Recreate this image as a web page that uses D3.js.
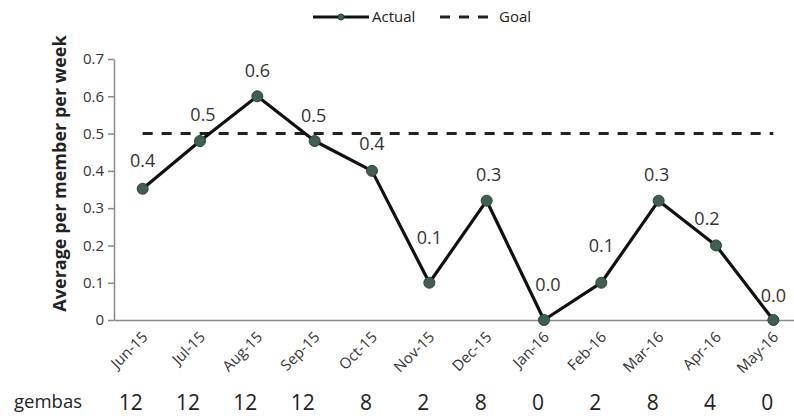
<!DOCTYPE html>
<html>
<head>
<meta charset="utf-8">
<script src="https://cdn.jsdelivr.net/npm/d3@7"></script>
<style>
  html, body { margin: 0; padding: 0; background: #fff; }
  svg { display: block; font-family: "Open Sans", "Noto Sans", sans-serif; }
</style>
</head>
<body>
<svg id="chart" width="794" height="416"></svg>
<script>
// Monthly gemba walks: average per member per week vs. goal
const months = ["Jun-15","Jul-15","Aug-15","Sep-15","Oct-15","Nov-15","Dec-15","Jan-16","Feb-16","Mar-16","Apr-16","May-16"];
const actual = [0.352, 0.48, 0.6, 0.48, 0.4, 0.1, 0.32, 0, 0.1, 0.32, 0.2, 0];
const goal = 0.5;
const gembas = [12, 12, 12, 12, 8, 2, 8, 0, 2, 8, 4, 0];
const yTicks = [0, 0.1, 0.2, 0.3, 0.4, 0.5, 0.6, 0.7];

const svg = d3.select("#chart");
const ink = "#222";
const axisGrey = "#8a8a8a";
const markerFill = "#3f5f50";

const x = d3.scalePoint().domain(months).range([114, 802]).padding(0.5);
const y = d3.scaleLinear().domain([0, 0.7]).range([320, 59]);

// y axis
const yAxis = svg.append("g")
  .attr("transform", "translate(114,0)")
  .call(d3.axisLeft(y).tickValues(yTicks).tickSize(6).tickSizeOuter(0)
    .tickFormat(d => d === 0 ? "0" : d3.format(".1f")(d)));
yAxis.select(".domain").attr("stroke", axisGrey).attr("stroke-width", 1.5);
yAxis.selectAll(".tick line").attr("stroke", axisGrey).attr("stroke-width", 1.5);
yAxis.selectAll(".tick text").attr("font-size", 15).attr("fill", "#333").attr("x", -10)
  .attr("font-family", "'Open Sans', sans-serif");

// x axis (baseline only; labels drawn rotated)
const xAxis = svg.append("g")
  .attr("transform", `translate(0,${y(0)})`)
  .call(d3.axisBottom(x).tickSize(0).tickSizeOuter(0).tickFormat(""));
xAxis.select(".domain").attr("stroke", axisGrey).attr("stroke-width", 1.5);

svg.append("g").selectAll("text")
  .data(months)
  .join("text")
  .attr("transform", d => `translate(${x(d) + 6},${y(0) + 18}) rotate(-45)`)
  .attr("text-anchor", "end")
  .attr("font-size", 15)
  .attr("fill", "#333")
  .text(d => d);

// y axis title
svg.append("text")
  .attr("transform", `translate(60,${(35 + 312) / 2}) rotate(-90)`)
  .attr("dy", "0.35em")
  .attr("text-anchor", "middle")
  .attr("font-size", 18)
  .attr("font-weight", "bold")
  .attr("fill", ink)
  .text("Average per member per week");

// goal line
svg.append("line")
  .attr("x1", x(months[0])).attr("x2", x(months[months.length - 1]))
  .attr("y1", y(goal)).attr("y2", y(goal))
  .attr("stroke", ink).attr("stroke-width", 3)
  .attr("stroke-dasharray", "10,9");

// actual line
const line = d3.line().x((d, i) => x(months[i])).y(d => y(d));
svg.append("path")
  .datum(actual)
  .attr("d", line)
  .attr("fill", "none")
  .attr("stroke", "#111")
  .attr("stroke-width", 3.2)
  .attr("stroke-linejoin", "round");

svg.append("g").selectAll("circle")
  .data(actual)
  .join("circle")
  .attr("cx", (d, i) => x(months[i]))
  .attr("cy", d => y(d))
  .attr("r", 5.5)
  .attr("fill", markerFill)
  .attr("stroke", "#2c4438")
  .attr("stroke-width", 1);

// value labels (a few nudged clear of the line)
const labelLift = [28, 27, 26, 26, 27, 45, 26, 36, 37, 26, 27, 25];
const labelShift = [0, 3, 0, -1, 0, 0, 2, 4, 0, -2, -9, 0];
svg.append("g").selectAll("text")
  .data(actual)
  .join("text")
  .attr("x", (d, i) => x(months[i]) + labelShift[i])
  .attr("y", (d, i) => y(d) - labelLift[i] + 6.5)
  .attr("text-anchor", "middle")
  .attr("font-size", 18)
  .attr("fill", "#333")
  .text(d => d3.format(".1f")(d));

// gembas row
svg.append("text")
  .attr("x", 14).attr("y", 408)
  .attr("font-size", 18.5)
  .attr("fill", ink)
  .text("gembas");
svg.append("g").selectAll("text")
  .data(gembas)
  .join("text")
  .attr("x", (d, i) => x(months[i]))
  .attr("y", 410)
  .attr("text-anchor", "end")
  .attr("font-size", 21)
  .attr("fill", ink)
  .text(d => d);

// legend
const legend = svg.append("g");
legend.append("line")
  .attr("x1", 313).attr("x2", 369).attr("y1", 17).attr("y2", 17)
  .attr("stroke", "#111").attr("stroke-width", 3);
legend.append("circle")
  .attr("cx", 341).attr("cy", 17).attr("r", 3)
  .attr("fill", markerFill).attr("stroke", "#2c4438");
legend.append("text")
  .attr("x", 372).attr("y", 22)
  .attr("font-size", 15).attr("fill", ink)
  .text("Actual");
legend.append("line")
  .attr("x1", 440).attr("x2", 496).attr("y1", 17).attr("y2", 17)
  .attr("stroke", ink).attr("stroke-width", 3)
  .attr("stroke-dasharray", "10,9");
legend.append("text")
  .attr("x", 499).attr("y", 22)
  .attr("font-size", 15).attr("fill", ink)
  .text("Goal");
</script>
</body>
</html>
